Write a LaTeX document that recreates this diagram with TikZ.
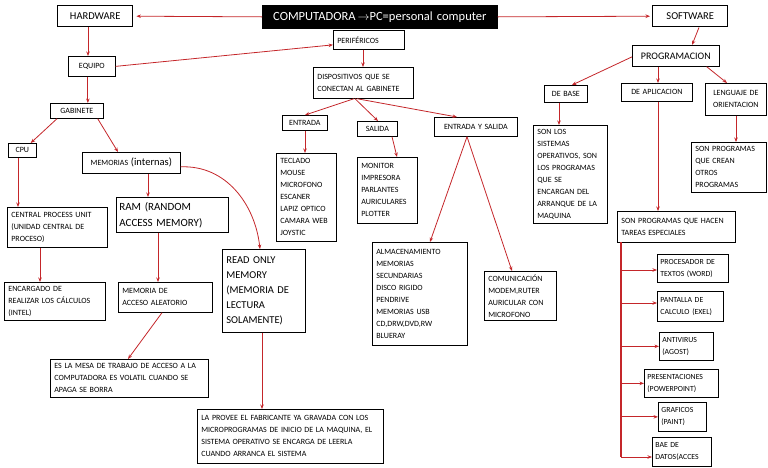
\documentclass[tikz,border=0pt]{standalone}
\usepackage{fontspec}
\setmainfont{Carlito}
\usetikzlibrary{arrows.meta}
\definecolor{cred}{RGB}{196,38,42}
\newcommand\smallf{\fontsize{8}{12}\selectfont}
\newcommand\itemf{\fontsize{7.8}{12}\selectfont}
\newcommand\bigf{\fontsize{10.5}{14}\selectfont}
\newcommand\compf{\fontsize{12.5}{14}\selectfont}
\newcommand\midf{\fontsize{10}{16}\selectfont}
\newcommand\ramf{\fontsize{11}{16}\selectfont}
\newcommand\romf{\fontsize{10.5}{15}\selectfont}
\newcommand\bx[7][]{%
  \pgfmathsetmacro\bxh{#6-#4}%
  \pgfmathsetmacro\bxt{#5-#3-8}%
  \node[box,anchor=north west,text width=\bxt pt,minimum height=\bxh pt,#1] (#2) at (#3,#4) {#7};}
\tikzset{
  box/.style={draw=black,line width=0.7pt,inner xsep=4pt,inner ysep=2pt,font=\smallf,align=left},
  thickbox/.style={line width=1.4pt,font=\bigf,align=center},
  ctr/.style={align=center},
  itm/.style={font=\itemf,inner xsep=3pt},
  arr/.style={draw=cred,line width=0.8pt,-{Stealth[length=4.5pt,width=3.5pt]}},
  ln/.style={draw=cred,line width=1.1pt}
}
\begin{document}
\begin{tikzpicture}[x=1pt,y=-1pt]
\useasboundingbox (0,0) rectangle (768,467);
% top
\bx[thickbox]{hw}{57}{5}{132}{26}{HARDWARE}
\bx[fill=black,text=white,font=\compf,align=center,draw=black]{comp}{262}{5}{497}{28}{COMPUTADORA\,$\rightarrow$PC=personal computer}
\bx[thickbox]{sw}{652}{5}{727}{26}{SOFTWARE}
% hardware branch
\bx[ctr]{eq}{68}{56}{115}{76}{EQUIPO}
\bx[ctr]{gab}{50}{103}{103}{118}{GABINETE}
\bx[ctr]{cpu}{8}{143}{36}{157}{CPU}
\bx[ctr]{mem}{82}{152}{180}{173}{MEMORIAS {\fontsize{10.5}{12}\selectfont (internas)}}
\bx{cpuu}{7}{207}{107}{247}{CENTRAL PROCESS UNIT\\(UNIDAD CENTRAL DE\\PROCESO)}
\bx{enc}{4}{282}{105}{320}{ENCARGADO DE\\REALIZAR LOS CÁLCULOS\\(INTEL)}
\bx[font=\ramf,inner xsep=3pt,text width=106pt]{ram}{116}{197}{222}{232}{RAM (RANDOM\\ACCESS MEMORY)}
\bx{mac}{118}{282}{212}{312}{MEMORIA DE\\ACCESO ALEATORIO}
\bx[font=\romf]{rom}{222}{249}{305}{332}{READ ONLY\\MEMORY\\(MEMORIA DE\\LECTURA\\SOLAMENTE)}
\bx{mesa}{50}{359}{208}{397}{ES LA MESA DE TRABAJO DE ACCESO A LA\\COMPUTADORA ES VOLATIL CUANDO SE\\APAGA SE BORRA}
\bx{prov}{197}{409}{383}{463}{LA PROVEE EL FABRICANTE YA GRAVADA CON LOS\\MICROPROGRAMAS DE INICIO DE LA MAQUINA, EL\\SISTEMA OPERATIVO SE ENCARGA DE LEERLA\\CUANDO ARRANCA EL SISTEMA}
% perifericos
\bx{per}{333}{30}{404}{49}{PERIFÉRICOS}
\bx{disp}{313}{67}{413}{98}{DISPOSITIVOS QUE SE\\CONECTAN AL GABINETE}
\bx[ctr]{ent}{282}{115}{327}{130}{ENTRADA}
\bx[ctr]{sal}{357}{121}{397}{136}{SALIDA}
\bx[ctr]{es}{434}{117}{517}{136}{ENTRADA Y SALIDA}
\bx{tec}{276}{153}{336}{241}{TECLADO\\MOUSE\\MICROFONO\\ESCANER\\LAPIZ OPTICO\\CAMARA WEB\\JOYSTIC}
\bx{mon}{357}{157}{417}{223}{MONITOR\\IMPRESORA\\PARLANTES\\AURICULARES\\PLOTTER}
\bx{alm}{372}{242}{467}{345}{ALMACENAMIENTO\\MEMORIAS\\SECUNDARIAS\\DISCO RIGIDO\\PENDRIVE\\MEMORIAS USB\\CD,DRW,DVD,RW\\BLUERAY}
\bx{com}{484}{271}{556}{320}{COMUNICACIÓN\\MODEM,RUTER\\AURICULAR CON\\MICROFONO}
% software
\bx[ctr,font=\midf]{prog}{632}{45}{719}{66}{PROGRAMACION}
\bx[ctr]{base}{544}{85}{587}{102}{DE BASE}
\bx[ctr]{apl}{621}{83}{692}{101}{DE APLICACION}
\bx[ctr]{len}{705}{83}{766}{115}{LENGUAJE DE\\ORIENTACION}
\bx{sonlos}{533}{125}{607}{223}{SON LOS\\SISTEMAS\\OPERATIVOS, SON\\LOS PROGRAMAS\\QUE SE\\ENCARGAN DEL\\ARRANQUE DE LA\\MAQUINA}
\bx{crean}{691}{142}{766}{192}{SON PROGRAMAS\\QUE CREAN\\OTROS\\PROGRAMAS}
\bx{hacen}{617}{211}{735}{242}{SON PROGRAMAS QUE HACEN\\TAREAS ESPECIALES}
\bx[itm,text width=65pt]{word}{657}{254}{728}{282}{PROCESADOR DE\\TEXTOS (WORD)}
\bx[itm,text width=60pt]{exel}{657}{291}{723}{321}{PANTALLA DE\\CALCULO (EXEL)}
\bx[itm,text width=48pt]{anti}{659}{332}{713}{360}{ANTIVIRUS\\(AGOST)}
\bx[itm,text width=68pt]{pres}{644}{369}{718}{397}{PRESENTACIONES\\(POWERPOINT)}
\bx[itm,text width=42pt]{graf}{658}{402}{706}{431}{GRAFICOS\\(PAINT)}
\bx[itm,text width=53pt]{bae}{652}{437}{711}{466}{BAE DE\\DATOS(ACCES}
% connectors
\draw[arr] (comp.west) -- ([xshift=3pt]hw.east);
\draw[arr] (comp.east) -- ([xshift=-2pt]sw.west);
\draw[arr] (hw.south -| 88,0) -- (eq.north -| 88,0);
\draw[arr] (eq.east) -- ([yshift=-5pt]per.west);
\draw[arr] ([xshift=-4pt]eq.south) -- ([xshift=-4pt]eq.south |- gab.north);
\draw[arr] ([xshift=7pt]gab.south west) -- ([xshift=-6pt]cpu.north east);
\draw[arr] ([xshift=-6pt]gab.south east) -- ([xshift=36pt]mem.north west);
\draw[arr] ([xshift=10pt]cpu.south west) -- ([xshift=10pt]cpu.south west |- cpuu.north);
\draw[arr] ([xshift=33pt]cpuu.south west) -- ([xshift=33pt]cpuu.south west |- enc.north);
\draw[arr] ([xshift=66pt]mem.south west) -- ([xshift=66pt]mem.south west |- ram.north);
\draw[arr] ([xshift=42pt]ram.south west) -- ([xshift=42pt]ram.south west |- mac.north);
\draw[arr] ([xshift=44pt]mac.south west) -- ([xshift=78pt]mesa.north west);
\draw[arr] ([yshift=-4pt]mem.east) .. controls +(45,-2) and +(-5,-45) .. ([xshift=38pt]rom.north west);
\draw[arr] ([xshift=40pt]rom.south west) -- ([xshift=40pt]rom.south west |- prov.north);
\draw[arr] ([xshift=30pt]per.south west) -- ([xshift=30pt]per.south west |- disp.north);
\draw[arr] ([xshift=41pt]disp.south west) -- ([xshift=23pt]ent.north west);
\draw[arr] ([xshift=42pt]disp.south west) -- ([xshift=21pt]sal.north west);
\draw[arr] ([xshift=44pt]disp.south west) -- ([xshift=23pt]es.north west);
\draw[arr] ([xshift=23pt]ent.south west) -- ([xshift=23pt]ent.south west |- tec.north);
\draw[arr] ([xshift=35pt]sal.south west) -- ([xshift=40pt]mon.north west);
\draw[arr] ([xshift=33pt]es.south west) -- ([xshift=58pt]alm.north west);
\draw[arr] ([xshift=33pt]es.south west) -- ([xshift=28pt]com.north west);
\draw[arr] ([xshift=47pt]sw.south west) -- ([xshift=60pt]prog.north west);
\draw[arr] ([yshift=-1pt]prog.west) -- ([xshift=28pt]base.north west);
\draw[arr] ([xshift=26pt]prog.south west) -- ([xshift=26pt]prog.south west |- apl.north);
\draw[arr] ([xshift=-13pt]prog.south east) -- ([xshift=22pt]len.north west);
\draw[arr] ([xshift=15pt]base.south west) -- ([xshift=15pt]base.south west |- sonlos.north);
\draw[arr] ([xshift=37pt]apl.south west) -- ([xshift=37pt]apl.south west |- hacen.north);
\draw[arr] ([xshift=31pt]len.south west) -- ([xshift=31pt]len.south west |- crean.north);
\coordinate (tr) at (621,242);
\coordinate (trb) at (621,457);
\draw[ln] (tr) -- (trb);
\draw[arr] (tr |- 0,270) -- (word.west |- 0,270);
\draw[arr] (tr |- 0,303) -- (exel.west |- 0,303);
\draw[arr] (tr |- anti.west) -- (anti.west);
\draw[arr] (tr |- pres.west) -- (pres.west);
\draw[arr] (tr |- graf.west) -- (graf.west);
\draw[arr] (trb) -- (trb -| bae.west);
\end{tikzpicture}
\end{document}
